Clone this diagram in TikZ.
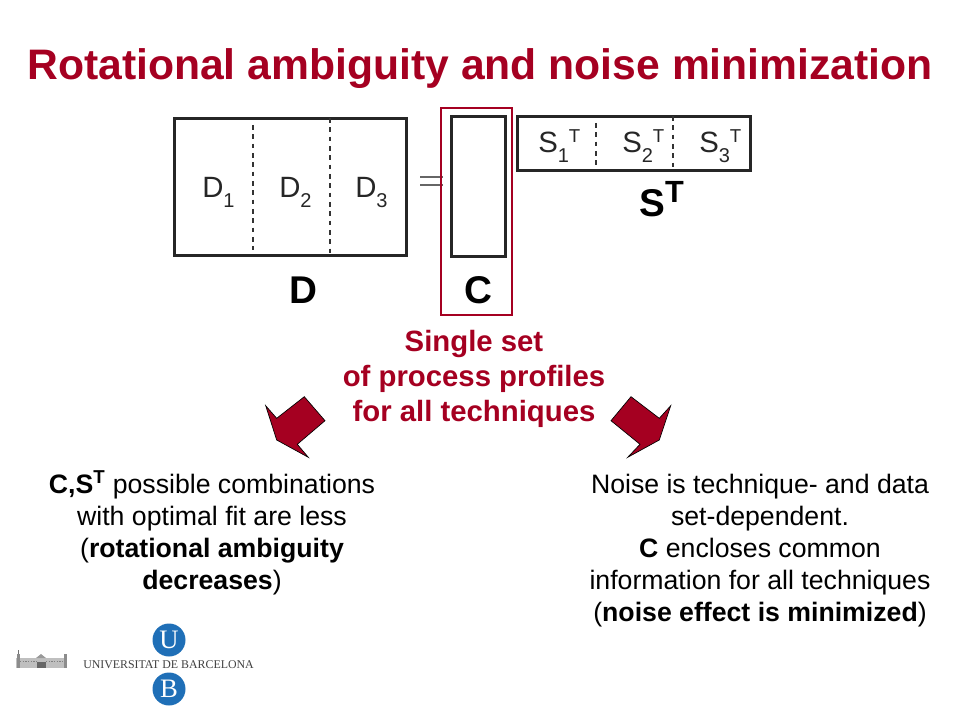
\documentclass[tikz,border=0pt]{standalone}
\usepackage{fontspec}
\usepackage{xcolor}
\usepackage{tikz}
\setmainfont{Liberation Sans}
\newfontfamily\logofont{Liberation Serif}
\definecolor{ubred}{HTML}{A50021}
\definecolor{ubblue}{HTML}{1F6FB7}
\newcommand{\subnum}[1]{\raisebox{-0.32em}{\fontsize{15}{15}\selectfont #1}}
\newcommand{\supT}{\raisebox{0.36em}{\fontsize{14}{14}\selectfont T}}

\begin{document}
\begin{tikzpicture}[x=0.75pt, y=-0.75pt,
    every node/.style={inner sep=0pt},
    matbox/.style={draw=black!85, line width=2.2pt, minimum width=#1, anchor=north west},
    split/.style={draw=black!80, line width=1.2pt, dash pattern=on 3.5pt off 3.5pt},
    term/.style={anchor=base west, text=black!85, font=\fontsize{22}{22}\selectfont},
    matname/.style={anchor=base, font=\bfseries\fontsize{29}{29}\selectfont},
    bodytext/.style={align=center, anchor=north, font=\fontsize{20}{24}\selectfont},
    redtext/.style={align=center, anchor=north, text=ubred, font=\bfseries\fontsize{22}{26.2}\selectfont},
    bluedisc/.style={circle, fill=ubblue, minimum size=24.75pt, text=white, font=\logofont\fontsize{20}{20}\selectfont},
    turn/.style={draw=black, line width=0.5pt, fill=ubred}]
     \useasboundingbox (0,0) rectangle (960,720);

     \node (title) at (480,69) [text=ubred, font=\bfseries\fontsize{32}{32}\selectfont] {Rotational ambiguity and noise minimization};

     % matrix D
     \node (matD) at (173,117) [matbox=174pt, minimum height=102.75pt] {};
     \draw[split] (252.7,125) -- (252.7,250);
     \draw[split] (330,118) -- (330,256);
     \node (D1) at (202,198) [term] {D\subnum{1}};
     \node (D2) at (279,198) [term] {D\subnum{2}};
     \node (D3) at (355,198) [term] {D\subnum{3}};
     \node (nameD) at (303,303) [matname] {D};

     % equal sign
     \draw[draw=black!60, line width=0.8pt] (420,177) -- (443,177);
     \draw[draw=black!60, line width=0.8pt] (420,185) -- (443,185);

     % matrix C
     \node (matC) at (450,115) [matbox=40.5pt, minimum height=105pt] {};
     \node (nameC) at (478,303) [matname] {C};
     \node (frameC) at (440,107) [draw=ubred, line width=1.4pt, anchor=north west, minimum width=53.25pt, minimum height=155.25pt] {};

     % matrix S
     \node (matS) at (516,115) [matbox=174.75pt, minimum height=40.5pt] {};
     \draw[split] (596,123) -- (596,165);
     \draw[split] (673,116) -- (673,171);
     \node (S1) at (538,153) [term] {S\subnum{1}\supT};
     \node (S2) at (622,153) [term] {S\subnum{2}\supT};
     \node (S3) at (699,153) [term] {S\subnum{3}\supT};
     \node (nameS) at (661.5,217) [matname] {S\raisebox{10.5pt}{\fontsize{23}{23}\selectfont T}};

     \node (single) at (474,330) [redtext] {Single set\\of process profiles\\for all techniques};

     % bent arrows
     \draw[turn] (265.7,405.7) -- (276.7,418.3) -- (304.3,396.7) -- (325,420.7) -- (297.3,444.3) -- (308.3,457.3) -- (276.7,440) -- cycle;
     \draw[turn] (670.7,405.7) -- (659.3,418.3) -- (631,396.7) -- (611,420.7) -- (640,444.3) -- (627.7,457.3) -- (659.3,440) -- cycle;

     \node (left) at (212,470) [bodytext] {\textbf{C,S\textsuperscript{T}} possible combinations\\with optimal fit are less\\(\textbf{rotational ambiguity}\\\textbf{decreases})};
     \node (right) at (760,474) [bodytext] {Noise is technique- and data\\set-dependent.\\\textbf{C} encloses common\\information for all techniques\\(\textbf{noise effect is minimized})};

     % logo
     \node (discU) at (169,640) [bluedisc] {U};
     \node (discB) at (169,689) [bluedisc] {B};
     \node (ubname) at (168.5,665) [text=black!75, font=\logofont\fontsize{8.9}{8.9}\selectfont] {UNIVERSITAT DE BARCELONA};
     \fill[black!25] (16,658) rectangle (67,668);
     \fill[black!45] (16.5,654) rectangle (20,668);
     \fill[black!45] (64,654) rectangle (67,668);
     \fill[black!40] (36,658) -- (41,654) -- (46,658) -- cycle;
     \fill[black!60] (37,662) rectangle (46,668);
     \draw[black!55, line width=0.4pt] (18,650) -- (18,654);
     \draw[black!50, line width=0.5pt, dash pattern=on 1pt off 1pt] (20,661) -- (37,661);
     \draw[black!50, line width=0.5pt, dash pattern=on 1pt off 1pt] (46,661) -- (64,661);
 \end{tikzpicture}
\end{document}
